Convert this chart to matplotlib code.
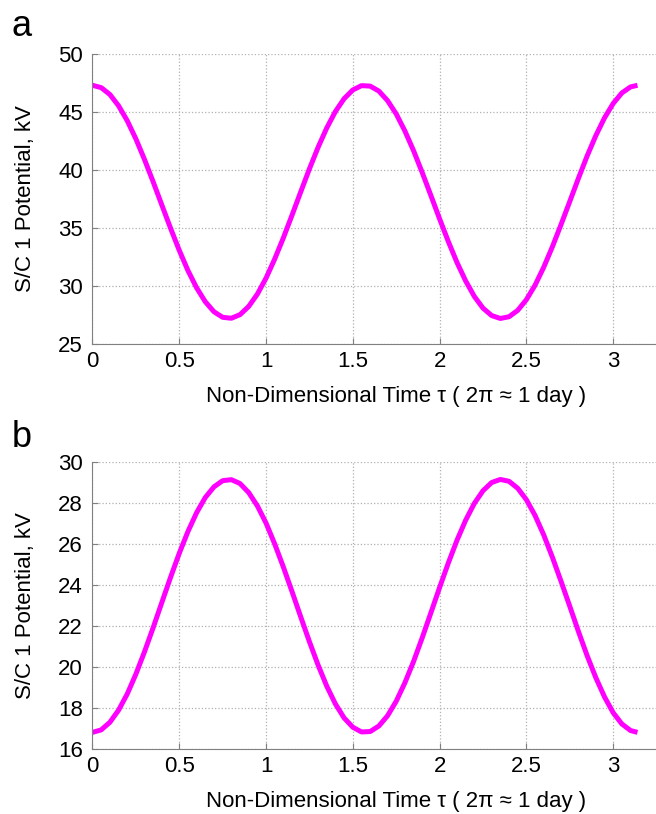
import matplotlib
matplotlib.use("Agg")
import matplotlib.pyplot as plt
import numpy as np

# non-dimensional time samples (read every 0.05 off the plot, last one at ~pi)
tau = list(np.round(np.arange(0, 3.11, 0.05), 2)) + [3.14]

# panel a: S/C 1 potential, kV
pot_a = [47.30, 47.10, 46.51, 45.54, 44.25, 42.68, 40.89, 38.96, 36.96, 34.97,
         33.07, 31.33, 29.84, 28.64, 27.78, 27.30, 27.22, 27.53, 28.24, 29.30,
         30.68, 32.33, 34.16, 36.12, 38.12, 40.10, 41.96, 43.63, 45.05, 46.15,
         46.90, 47.27, 47.23, 46.80, 45.98, 44.83, 43.36, 41.66, 39.77, 37.79,
         35.78, 33.84, 32.03, 30.44, 29.10, 28.09, 27.45, 27.20, 27.35, 27.90,
         28.82, 30.07, 31.62, 33.39, 35.31, 37.29, 39.29, 41.21, 42.96, 44.49,
         45.73, 46.64, 47.16, 47.30]

# panel b
pot_b = [16.81, 16.93, 17.30, 17.89, 18.68, 19.65, 20.75, 21.93, 23.16, 24.38,
         25.55, 26.61, 27.53, 28.27, 28.79, 29.09, 29.14, 28.95, 28.51, 27.86,
         27.02, 26.00, 24.87, 23.67, 22.44, 21.23, 20.09, 19.06, 18.19, 17.51,
         17.06, 16.83, 16.85, 17.12, 17.62, 18.33, 19.23, 20.27, 21.43, 22.65,
         23.88, 25.07, 26.18, 27.16, 27.98, 28.60, 29.00, 29.15, 29.06, 28.72,
         28.16, 27.39, 26.44, 25.35, 24.17, 22.96, 21.73, 20.55, 19.48, 18.54,
         17.77, 17.22, 16.90, 16.81]

xticks = [0, 0.5, 1, 1.5, 2, 2.5, 3]
xtick_labels = ["0", "0.5", "1", "1.5", "2", "2.5", "3"]
yticks_a = [25, 30, 35, 40, 45, 50]
yticks_b = [16, 18, 20, 22, 24, 26, 28, 30]

plt.rcParams["font.family"] = ["Liberation Sans", "DejaVu Sans"]

fig = plt.figure(figsize=(6.56, 8.14), dpi=100)
# the original panels run past the right edge of the picture (cropped at ~3.24)
ax_a = fig.add_axes([0.141, 0.5774, 0.926, 0.3563])
ax_b = fig.add_axes([0.141, 0.0799, 0.926, 0.3525])

xlabel = "Non-Dimensional Time \u03c4 ( 2\u03c0 \u2248 1 day )"
ylabel = "S/C 1 Potential, kV"

for ax, y, yt in [(ax_a, pot_a, yticks_a), (ax_b, pot_b, yticks_b)]:
    ax.plot(tau, y, color="#ff00ff", linewidth=3.6, solid_capstyle="butt",
            solid_joinstyle="round")
    ax.set_xlim(0, 3.5)
    ax.set_ylim(yt[0], yt[-1])
    ax.set_xticks(xticks)
    ax.set_xticklabels(xtick_labels)
    ax.set_yticks(yt)
    ax.grid(True, linestyle=":", color="#b0b0b0", linewidth=0.9)
    ax.spines["top"].set_visible(False)
    ax.spines["right"].set_visible(False)
    ax.spines["left"].set_color("#808080")
    ax.spines["bottom"].set_color("#808080")
    ax.tick_params(direction="in", length=4, color="#808080", labelsize=16)
    ax.tick_params(axis="x", pad=5)
    ax.tick_params(axis="y", pad=7)
    ax.set_xlabel(xlabel, fontsize=16, labelpad=10)
    ax.set_ylabel(ylabel, fontsize=16, labelpad=16)

fig.text(0.018, 0.968, "a", fontsize=26, va="center")
fig.text(0.018, 0.462, "b", fontsize=26, va="center")

fig.savefig("out.png", dpi=100)
